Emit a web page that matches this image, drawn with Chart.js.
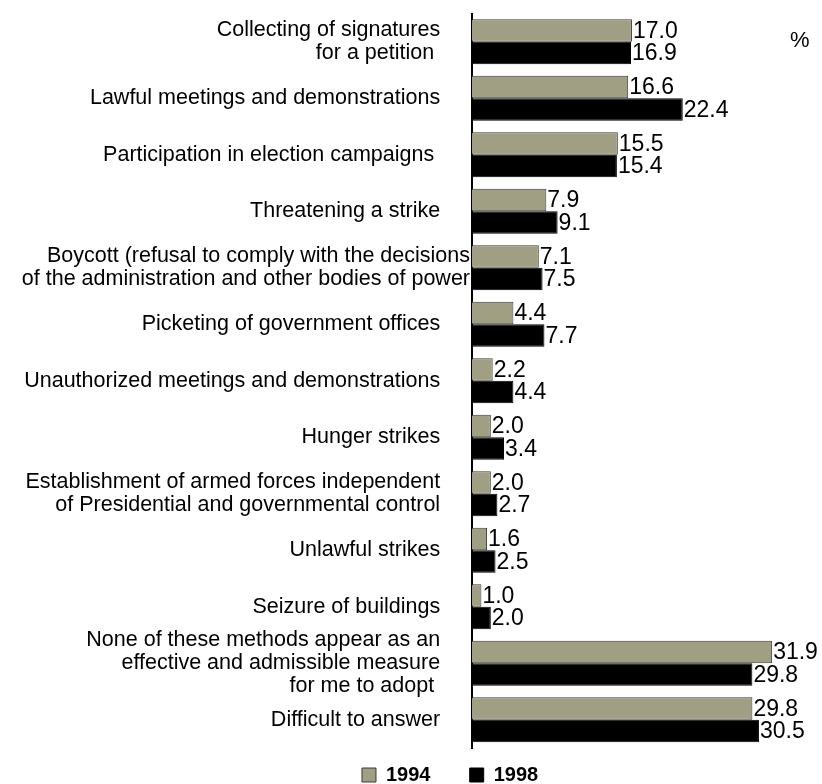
<!DOCTYPE html>
<html>
<head>
<meta charset="utf-8">
<script src="https://cdn.jsdelivr.net/npm/chart.js@4/dist/chart.umd.min.js"></script>
<style>
  body { margin: 0; background: #fff; }
</style>
</head>
<body>
<canvas id="barChart" width="822" height="784"></canvas>
<script>
const categories = [
    ['Collecting of signatures', 'for a petition '],
    ['Lawful meetings and demonstrations'],
    ['Participation in election campaigns '],
    ['Threatening a strike'],
    ['Boycott (refusal to comply with the decisions', 'of the administration and other bodies of power'],
    ['Picketing of government offices'],
    ['Unauthorized meetings and demonstrations'],
    ['Hunger strikes'],
    ['Establishment of armed forces independent', 'of Presidential and governmental control'],
    ['Unlawful strikes'],
    ['Seizure of buildings'],
    ['None of these methods appear as an', 'effective and admissible measure', 'for me to adopt '],
    ['Difficult to answer']
];
const years = ['1994', '1998'];
const values1994 = [17.0, 16.6, 15.5, 7.9, 7.1, 4.4, 2.2, 2.0, 2.0, 1.6, 1.0, 31.9, 29.8];
const values1998 = [16.9, 22.4, 15.4, 9.1, 7.5, 7.7, 4.4, 3.4, 2.7, 2.5, 2.0, 29.8, 30.5];

const labelFont = '"Liberation Sans", Arial, sans-serif';
const wideRow = 4;        // the boycott label runs right up to the axis
const tickPad = '     ';  // everything else sits a bit further left
const legendPad = '    ';

// numbers at the end of each bar + the % sign
const valueLabels = {
    id: 'valueLabels',
    afterLayout(chart) {
        // let the long category labels spill past the axis box instead of being clipped
        chart.scales.y.left = 0;
    },
    afterDatasetsDraw(chart) {
        const ctx = chart.ctx;
        ctx.save();
        ctx.font = '23px ' + labelFont;
        ctx.fillStyle = '#000';
        ctx.textAlign = 'left';
        ctx.textBaseline = 'middle';
        chart.data.datasets.forEach((ds, i) => {
            chart.getDatasetMeta(i).data.forEach((bar, j) => {
                ctx.fillText(ds.data[j].toFixed(1), bar.x + 1, bar.y + 1);
            });
        });
        ctx.font = '22px ' + labelFont;
        ctx.fillText('%', chart.chartArea.right - 32, chart.chartArea.top + 27);
        ctx.restore();
    }
};

var ctx = document.getElementById('barChart').getContext('2d');
var myBarChart = new Chart(ctx, {
    type: 'bar',
    data: {
        labels: categories,
        datasets: [{
            label: years[0],
            data: values1994,
            backgroundColor: '#a19f83',
            borderColor: '#3a3a3a',
            borderWidth: 1
        }, {
            label: years[1],
            data: values1998,
            backgroundColor: '#000',
            borderColor: '#000',
            borderWidth: 1
        }]
    },
    options: {
        indexAxis: 'y',
        responsive: false,
        animation: false,
        barPercentage: 1,
        categoryPercentage: 0.795,
        layout: {
            padding: { left: 100.4, right: 0, top: 12.2, bottom: -11 }
        },
        scales: {
            x: {
                display: false,
                min: 0,
                max: 37.2
            },
            y: {
                grid: { display: false, drawTicks: false },
                border: { display: true, color: '#000', width: 2 },
                afterFit: s => { s.width = 371.6; },
                ticks: {
                    autoSkip: false,
                    padding: 2,
                    color: '#000',
                    font: { family: labelFont, size: 21.5, lineHeight: 1.07 },
                    callback: function(value, index) {
                        const lines = categories[index];
                        return index === wideRow ? lines : lines.map(l => l + tickPad);
                    }
                }
            }
        },
        plugins: {
            tooltip: { enabled: false },
            legend: {
                position: 'bottom',
                labels: {
                    boxWidth: 14,
                    boxHeight: 14,
                    padding: 17,
                    color: '#000',
                    font: { family: labelFont, size: 20, weight: 'bold' },
                    generateLabels: chart => Chart.defaults.plugins.legend.labels.generateLabels(chart)
                        .map(item => ({ ...item, text: item.text + legendPad }))
                }
            }
        }
    },
    plugins: [valueLabels]
});
</script>
</body>
</html>
